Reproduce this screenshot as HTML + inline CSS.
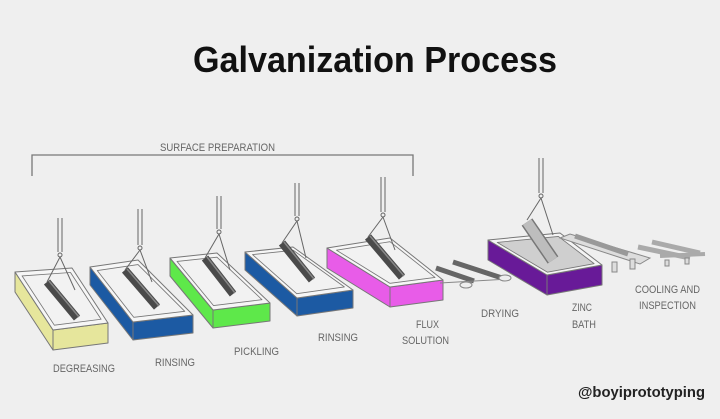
<!DOCTYPE html>
<html><head><meta charset="utf-8"><style>
html,body{margin:0;padding:0;background:#efefef;}
svg{display:block}
.l{font-family:"Liberation Sans Narrow","Liberation Sans",sans-serif;font-size:11px;fill:#666;}
</style></head><body>
<svg width="720" height="419" viewBox="0 0 720 419" xmlns="http://www.w3.org/2000/svg">
<rect width="720" height="419" fill="#efefef"/>
<text x="375" y="72" text-anchor="middle" font-family="Liberation Sans, sans-serif" font-weight="bold" font-size="36" fill="#111" textLength="364" lengthAdjust="spacingAndGlyphs">Galvanization Process</text>
<text class="l" x="160" y="151" textLength="115" lengthAdjust="spacingAndGlyphs">SURFACE PREPARATION</text>
<polyline points="32,176 32,155 413,155 413,176" fill="none" stroke="#777" stroke-width="1.3"/>

<g stroke="#777" stroke-width="1" stroke-linejoin="round">
<polygon points="15,272 53,330 53,350 15,292" fill="#e6e69c"/>
<polygon points="53,330 108,323 108,343 53,350" fill="#e6e69c"/>
<polygon points="15,272 72,268 108,323 53,330" fill="#f6f6f6"/>
<polygon points="15,272 72,268 108,323 53,330" fill="#f2f2f2" transform="matrix(.85,0,0,.85,9.3,44.7)"/>
<polygon points="90,267 133,322 133,340 90,285" fill="#1c5aa3"/>
<polygon points="133,322 193,315 193,333 133,340" fill="#1c5aa3"/>
<polygon points="90,267 138,260 193,315 133,322" fill="#f6f6f6"/>
<polygon points="90,267 138,260 193,315 133,322" fill="#f2f2f2" transform="matrix(.85,0,0,.85,20.7,43.6)"/>
<polygon points="170,258 213,310 213,328 170,276" fill="#5ee84a"/>
<polygon points="213,310 270,303 270,321 213,328" fill="#5ee84a"/>
<polygon points="170,258 217,253 270,303 213,310" fill="#f6f6f6"/>
<polygon points="170,258 217,253 270,303 213,310" fill="#f2f2f2" transform="matrix(.85,0,0,.85,32.5,42.1)"/>
<polygon points="245,252 297,298 297,316 245,270" fill="#1c5aa3"/>
<polygon points="297,298 353,290 353,308 297,316" fill="#1c5aa3"/>
<polygon points="245,252 293,247 353,290 297,298" fill="#f6f6f6"/>
<polygon points="245,252 293,247 353,290 297,298" fill="#f2f2f2" transform="matrix(.85,0,0,.85,44.3,40.4)"/>
<polygon points="327,248 390,287 390,307 327,268" fill="#e85ce8"/>
<polygon points="390,287 443,280 443,300 390,307" fill="#e85ce8"/>
<polygon points="327,248 390,238 443,280 390,287" fill="#f6f6f6"/>
<polygon points="327,248 390,238 443,280 390,287" fill="#f2f2f2" transform="matrix(.85,0,0,.85,58.5,39.4)"/>
<polygon points="488,240 547,275 547,295 488,260" fill="#681a98"/>
<polygon points="547,275 602,265 602,285 547,295" fill="#681a98"/>
<polygon points="488,240 560,233 602,265 547,275" fill="#f4f4f4"/>
<polygon points="488,240 560,233 602,265 547,275" fill="#cfcfcf" transform="matrix(.85,0,0,.85,82.4,38.4)"/>
</g>

<g stroke-linecap="butt">
<line x1="47" y1="282" x2="77" y2="318" stroke="#4a4a4a" stroke-width="8"/>
<line x1="49" y1="281" x2="79" y2="317" stroke="#888" stroke-width="1.5"/>
<line x1="125" y1="270" x2="157" y2="307" stroke="#4a4a4a" stroke-width="8"/>
<line x1="127" y1="269" x2="159" y2="306" stroke="#888" stroke-width="1.5"/>
<line x1="205" y1="258" x2="233" y2="294" stroke="#4a4a4a" stroke-width="8"/>
<line x1="207" y1="257" x2="235" y2="293" stroke="#888" stroke-width="1.5"/>
<line x1="282" y1="243" x2="312" y2="280" stroke="#4a4a4a" stroke-width="8"/>
<line x1="284" y1="242" x2="314" y2="279" stroke="#888" stroke-width="1.5"/>
<line x1="368" y1="237" x2="402" y2="277" stroke="#4a4a4a" stroke-width="8"/>
<line x1="370" y1="236" x2="404" y2="276" stroke="#888" stroke-width="1.5"/>
<line x1="527" y1="222" x2="553" y2="260" stroke="#777" stroke-width="13"/>
<line x1="527" y1="222" x2="553" y2="260" stroke="#bdbdbd" stroke-width="10"/>
</g>

<g stroke="#666" stroke-width="1" fill="none">
<line x1="58" y1="218" x2="58" y2="252"/><line x1="62" y1="218" x2="62" y2="252"/><circle cx="60" cy="255" r="2"/>
<polyline points="47,282 60,257 75,290"/>
<line x1="138" y1="209" x2="138" y2="245"/><line x1="142" y1="209" x2="142" y2="245"/><circle cx="140" cy="248" r="2"/>
<polyline points="125,270 140,250 152,282"/>
<line x1="217" y1="196" x2="217" y2="229"/><line x1="221" y1="196" x2="221" y2="229"/><circle cx="219" cy="232" r="2"/>
<polyline points="205,258 219,234 230,270"/>
<line x1="295" y1="183" x2="295" y2="216"/><line x1="299" y1="183" x2="299" y2="216"/><circle cx="297" cy="219" r="2"/>
<polyline points="282,243 297,221 306,258"/>
<line x1="381" y1="177" x2="381" y2="212"/><line x1="385" y1="177" x2="385" y2="212"/><circle cx="383" cy="215" r="2"/>
<polyline points="368,237 383,217 395,250"/>
<line x1="539" y1="158" x2="539" y2="193"/><line x1="543" y1="158" x2="543" y2="193"/><circle cx="541" cy="196" r="2"/>
<polyline points="527,220 541,198 553,235"/>
</g>

<g stroke="#888" stroke-width="1">
<line x1="436" y1="268" x2="474" y2="281" stroke="#666" stroke-width="5"/>
<line x1="453" y1="262" x2="502" y2="278" stroke="#666" stroke-width="5"/>
<line x1="440" y1="283" x2="510" y2="279" fill="none"/>
<ellipse cx="505" cy="278" rx="6" ry="3" fill="#eee"/>
<ellipse cx="466" cy="285" rx="6" ry="3" fill="#eee"/>
</g>
<g stroke="#888" stroke-width="1" fill="#ddd">
<polygon points="560,238 570,234 650,258 640,264"/>
<line x1="575" y1="236" x2="628" y2="254" stroke="#999" stroke-width="5"/>
<rect x="612" y="262" width="5" height="10"/><rect x="630" y="259" width="5" height="10"/>
<line x1="638" y1="247" x2="690" y2="258" stroke="#aaa" stroke-width="5"/>
<line x1="652" y1="242" x2="700" y2="253" stroke="#aaa" stroke-width="5"/>
<line x1="660" y1="256" x2="705" y2="254" stroke="#aaa" stroke-width="4"/>
<rect x="665" y="260" width="4" height="6"/><rect x="685" y="258" width="4" height="6"/>
</g>

<text class="l" x="53" y="372" textLength="62" lengthAdjust="spacingAndGlyphs">DEGREASING</text>
<text class="l" x="155" y="366" textLength="40" lengthAdjust="spacingAndGlyphs">RINSING</text>
<text class="l" x="234" y="355" textLength="45" lengthAdjust="spacingAndGlyphs">PICKLING</text>
<text class="l" x="318" y="341" textLength="40" lengthAdjust="spacingAndGlyphs">RINSING</text>
<text class="l" x="416" y="328" textLength="23" lengthAdjust="spacingAndGlyphs">FLUX</text>
<text class="l" x="402" y="344" textLength="47" lengthAdjust="spacingAndGlyphs">SOLUTION</text>
<text class="l" x="481" y="317" textLength="38" lengthAdjust="spacingAndGlyphs">DRYING</text>
<text class="l" x="572" y="311" textLength="20" lengthAdjust="spacingAndGlyphs">ZINC</text>
<text class="l" x="572" y="328" textLength="24" lengthAdjust="spacingAndGlyphs">BATH</text>
<text class="l" x="635" y="293" textLength="65" lengthAdjust="spacingAndGlyphs">COOLING AND</text>
<text class="l" x="639" y="309" textLength="57" lengthAdjust="spacingAndGlyphs">INSPECTION</text>
<text x="578" y="397" font-family="Liberation Sans, sans-serif" font-weight="bold" font-size="15" fill="#222" textLength="127" lengthAdjust="spacingAndGlyphs">@boyiprototyping</text>
</svg>
</body></html>
